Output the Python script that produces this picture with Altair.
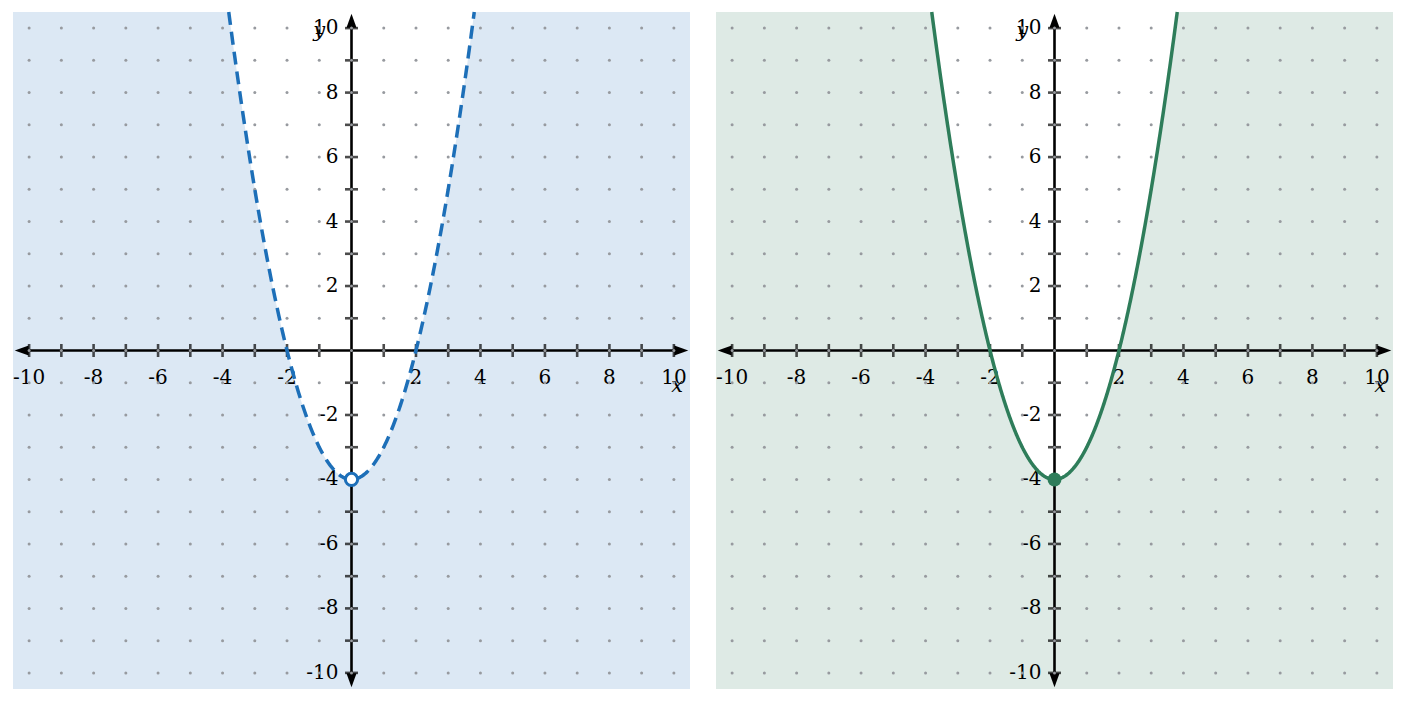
import numpy as np
import pandas as pd
import altair as alt

# y = a*x^2 + b*x + c
COEFFS = (1, 0, -4)
VERTEX = (0, -4)
LIMIT = 10.5
GRID = list(range(-10, 11))
TICKS = [v for v in GRID if v != 0]
LABELS = [-10, -8, -6, -4, -2, 2, 4, 6, 8, 10]

PANELS = [
    {"bg": "#dce8f4", "line": "#1d6fb8", "dash": [13, 7], "open": True},
    {"bg": "#deeae5", "line": "#2e7d5a", "dash": [1, 0], "open": False},
]

FONT = "DejaVu Serif"
SIZE = 677

a, b, c = COEFFS
xmax = np.sqrt((LIMIT - c) / a)
xs = np.linspace(-xmax, xmax, 241)
curve = pd.DataFrame({"x": xs, "y": a * xs**2 + b * xs + c, "top": LIMIT})

dots = pd.DataFrame([(gx, gy) for gx in GRID for gy in GRID], columns=["x", "y"])
xticks = pd.DataFrame({"x": TICKS, "y": 0})
yticks = pd.DataFrame({"x": 0, "y": TICKS})
xlabels = pd.DataFrame({"x": LABELS, "y": 0, "t": [str(v) for v in LABELS]})
ylabels = pd.DataFrame({"x": 0, "y": LABELS, "t": [str(v) for v in LABELS]})

xs_ = alt.Scale(domain=[-LIMIT, LIMIT], nice=False, zero=False)
ys_ = alt.Scale(domain=[-LIMIT, LIMIT], nice=False, zero=False)


def X(f="x"):
    return alt.X(f, type="quantitative", scale=xs_, axis=None)


def Y(f="y"):
    return alt.Y(f, type="quantitative", scale=ys_, axis=None)


def panel(p):
    bg = alt.Chart(pd.DataFrame({"x": [-LIMIT], "x2": [LIMIT], "y": [-LIMIT], "y2": [LIMIT]})).mark_rect(
        color=p["bg"]
    ).encode(x=X(), x2="x2", y=Y(), y2="y2")

    inside = alt.Chart(curve).mark_area(color="white", opacity=1).encode(x=X(), y=Y(), y2="top")

    grid = alt.Chart(dots).mark_circle(size=9, color="#979a9f", opacity=1).encode(x=X(), y=Y())

    axes = alt.Chart(
        pd.DataFrame({"x": [-10.3, 0], "x2": [10.3, 0], "y": [0, -10.3], "y2": [0, 10.3]})
    ).mark_rule(color="black", strokeWidth=2.6).encode(x=X(), x2="x2", y=Y(), y2="y2")

    # arrow heads: 14px long, ~10px wide
    arrows = alt.Chart(
        pd.DataFrame(
            {
                "x": [10.23, -10.23, 0, 0],
                "y": [0, 0, 10.23, -10.23],
                "s": [
                    "M1,0L-1,-0.72L-1,0.72Z",
                    "M-1,0L1,-0.72L1,0.72Z",
                    "M0,-1L-0.72,1L0.72,1Z",
                    "M0,1L-0.72,-1L0.72,-1Z",
                ],
            }
        )
    ).mark_point(filled=True, color="black", opacity=1, size=196, strokeWidth=0).encode(
        x=X(), y=Y(), shape=alt.Shape("s:N", scale=None)
    )

    xt = alt.Chart(xticks).mark_tick(orient="vertical", color="black", size=13, thickness=2.6).encode(
        x=X(), y=Y()
    )
    yt = alt.Chart(yticks).mark_tick(orient="horizontal", color="black", size=13, thickness=2.6).encode(
        x=X(), y=Y()
    )

    xl = alt.Chart(xlabels).mark_text(font=FONT, fontSize=20, dy=27, align="center", baseline="middle").encode(
        x=X(), y=Y(), text="t:N"
    )
    yl = alt.Chart(ylabels).mark_text(font=FONT, fontSize=20, dx=-13, align="right", baseline="middle").encode(
        x=X(), y=Y(), text="t:N"
    )

    names = alt.Chart(
        pd.DataFrame({"x": [-1.0, 10.1], "y": [9.9, -1.1], "t": ["y", "x"]})
    ).mark_text(font=FONT, fontSize=21, fontStyle="italic", align="center", baseline="middle").encode(
        x=X(), y=Y(), text="t:N"
    )

    line = alt.Chart(curve).mark_line(
        color=p["line"], strokeWidth=3.5, strokeDash=p["dash"]
    ).encode(x=X(), y=Y())

    vdf = pd.DataFrame({"x": [VERTEX[0]], "y": [VERTEX[1]]})
    if p["open"]:
        vert = alt.Chart(vdf).mark_point(
            shape="circle", filled=True, fill="white", stroke=p["line"], strokeWidth=3, size=150, opacity=1
        ).encode(x=X(), y=Y())
    else:
        vert = alt.Chart(vdf).mark_circle(color=p["line"], size=195, opacity=1).encode(x=X(), y=Y())

    return alt.layer(bg, inside, axes, arrows, xt, yt, xl, yl, names, grid, line, vert).properties(
        width=SIZE, height=SIZE
    )


chart = (
    alt.hconcat(*[panel(p) for p in PANELS], spacing=26)
    .properties(
        padding={"left": 5, "top": -3, "right": 0, "bottom": 0},
        background="white",
    )
    .configure_view(stroke=None)
)

chart.save("out.html", embed_options={"renderer": "svg", "actions": False})
